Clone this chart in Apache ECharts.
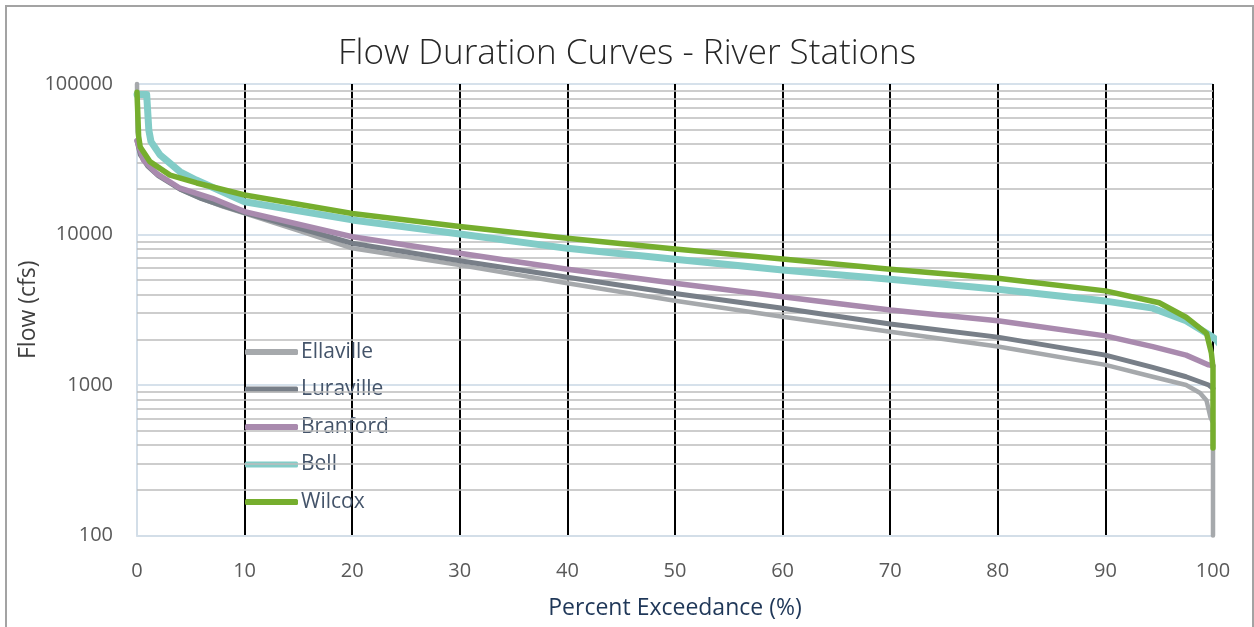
<!DOCTYPE html>
<html>
<head>
<meta charset="utf-8">
<title>Flow Duration Curves - River Stations</title>
<script src="https://cdn.jsdelivr.net/npm/echarts@6/dist/echarts.min.js"></script>
<style>
  html, body { margin: 0; padding: 0; background: #ffffff; }
  #chart { width: 1254px; height: 627px; }
</style>
</head>
<body>
<div id="chart"></div>
<script>
// Percent of time a flow is equalled or exceeded (x) and flow in cfs (q) for each station
const ellavilleX = [0, 0.05, 0.3, 1, 2, 4, 6, 8, 10, 15, 20, 30, 40, 50, 60, 70, 80, 90, 94.4, 97.5, 98.8, 99.4, 99.75, 100, 100];
const ellavilleQ = [100000, 48000, 37000, 29500, 25000, 20000, 17300, 15300, 13800, 10600, 8100, 6260, 4740, 3630, 2840, 2260, 1800, 1360, 1135, 1000, 885, 790, 615, 560, 100];

const luravilleX = [0, 0.3, 1, 2, 4, 6, 8, 10, 20, 30, 40, 50, 60, 70, 80, 90, 94.4, 97.5, 99.6, 100];
const luravilleQ = [42000, 34000, 28500, 24500, 20000, 17300, 15500, 14000, 8750, 6700, 5200, 4060, 3240, 2540, 2080, 1580, 1310, 1135, 1000, 950];

const branfordX = [0, 0.6, 1.8, 4, 7, 10, 20, 30, 40, 50, 60, 70, 80, 90, 94.4, 97.5, 99.6, 100];
const branfordQ = [42000, 31200, 25500, 20300, 17400, 14200, 9660, 7500, 5870, 4740, 3860, 3150, 2670, 2120, 1800, 1580, 1360, 1340];

const bellX = [0, 0.9, 1.1, 1.3, 2.14, 4, 5.5, 10, 20, 30, 40, 50, 60, 70, 80, 90, 94.4, 97.5, 99.9, 100.3, 100.6];
const bellQ = [85000, 85000, 49400, 41400, 33800, 26100, 23000, 16500, 12500, 10080, 8090, 6840, 5810, 5040, 4330, 3610, 3240, 2670, 2100, 2000, 1880];

const wilcoxX = [0, 0.15, 0.3, 1.2, 3.07, 5.55, 10, 20, 30, 40, 50, 60, 70, 80, 90, 95, 97.5, 99.4, 99.85, 100, 100];
const wilcoxQ = [88000, 45000, 38100, 30500, 24800, 22000, 18300, 13800, 11300, 9440, 8020, 6870, 5870, 5120, 4220, 3520, 2820, 2200, 1630, 1300, 381];

const stationNames = ['Ellaville', 'Luraville', 'Branford', 'Bell', 'Wilcox'];
const stationColors = ['#a6a9ac', '#787f88', '#a98aae', '#82ccc7', '#76ae2e'];
const stationWidths = [4.5, 5, 5.5, 7, 5.5];

// Intermediate log-decade gridlines (2..9 x 10^n)
const minorGridValues = [200, 300, 400, 500, 600, 700, 800, 900,
  2000, 3000, 4000, 5000, 6000, 7000, 8000, 9000,
  20000, 30000, 40000, 50000, 60000, 70000, 80000, 90000];

const xTicks = { min: 0, max: 100, interval: 10 };
const yTicks = { min: 100, max: 100000 };

const FONT = '"Open Sans", "Noto Sans", sans-serif';

function zip(xs, ys) { return xs.map((x, i) => [x, ys[i]]); }
const stationData = [
  zip(ellavilleX, ellavilleQ),
  zip(luravilleX, luravilleQ),
  zip(branfordX, branfordQ),
  zip(bellX, bellQ),
  zip(wilcoxX, wilcoxQ)
];

const chart = echarts.init(document.getElementById('chart'), null, { renderer: 'canvas' });

const series = [{
  name: 'minor-grid',
  type: 'line',
  data: [],
  z: 1,
  silent: true,
  markLine: {
    silent: true,
    symbol: 'none',
    animation: false,
    label: { show: false },
    emphasis: { disabled: true },
    lineStyle: { color: '#bdbdbd', width: 1.5, type: 'solid' },
    data: minorGridValues.map(v => ({ yAxis: v }))
  }
}];

stationNames.forEach((name, i) => {
  series.push({
    name: name,
    type: 'line',
    data: stationData[i],
    showSymbol: false,
    symbol: 'none',
    clip: false,
    z: 5,
    color: stationColors[i],
    lineStyle: { color: stationColors[i], width: stationWidths[i], cap: 'round', join: 'round' },
    emphasis: { disabled: true }
  });
});

chart.setOption({
  animation: false,
  backgroundColor: '#ffffff',
  textStyle: { fontFamily: FONT },
  graphic: [{
    type: 'rect',
    shape: { x: 6, y: 6, width: 1247, height: 640 },
    style: { fill: 'none', stroke: '#a3a3a3', lineWidth: 2 },
    silent: true,
    z: 0
  }],
  title: {
    text: 'Flow Duration Curves - River Stations',
    left: 'center',
    top: 32,
    textStyle: { fontFamily: FONT, fontSize: 35, fontWeight: 300, color: '#262626' }
  },
  legend: {
    data: stationNames,
    orient: 'vertical',
    left: 240,
    top: 336,
    icon: 'roundRect',
    itemWidth: 53,
    itemHeight: 6,
    itemGap: 15.5,
    selectedMode: false,
    textStyle: { fontFamily: FONT, fontSize: 21, lineHeight: 22, color: '#44546a', padding: [0, 0, 0, -2] }
  },
  grid: { left: 137, right: 41, top: 84, bottom: 91.5, containLabel: false },
  xAxis: {
    type: 'value',
    min: xTicks.min,
    max: xTicks.max,
    interval: xTicks.interval,
    z: 3,
    name: 'Percent Exceedance (%)',
    nameLocation: 'middle',
    nameGap: 61,
    nameMoveOverlap: false,
    nameTextStyle: { fontFamily: FONT, fontSize: 23, color: '#1f3758' },
    axisLine: { show: true, lineStyle: { color: '#d3dee8', width: 2 } },
    axisTick: { show: false },
    axisLabel: { fontFamily: FONT, fontSize: 20, color: '#595959', margin: 26 },
    splitLine: { show: true, showMinLine: false, lineStyle: { color: '#000000', width: 2 } }
  },
  yAxis: {
    type: 'log',
    logBase: 10,
    min: yTicks.min,
    max: yTicks.max,
    name: 'Flow (cfs)',
    nameLocation: 'middle',
    nameGap: 97,
    nameMoveOverlap: false,
    nameTextStyle: { fontFamily: FONT, fontSize: 23, color: '#404040' },
    axisLine: { show: true, lineStyle: { color: '#d3dee8', width: 2 } },
    axisTick: { show: false },
    axisLabel: { fontFamily: FONT, fontSize: 20, color: '#595959', margin: 24, formatter: v => String(Math.round(v)) },
    splitLine: { show: true, lineStyle: { color: '#d6e1eb', width: 2 } },
    minorSplitLine: { show: false }
  },
  series: series
});
</script>
</body>
</html>
